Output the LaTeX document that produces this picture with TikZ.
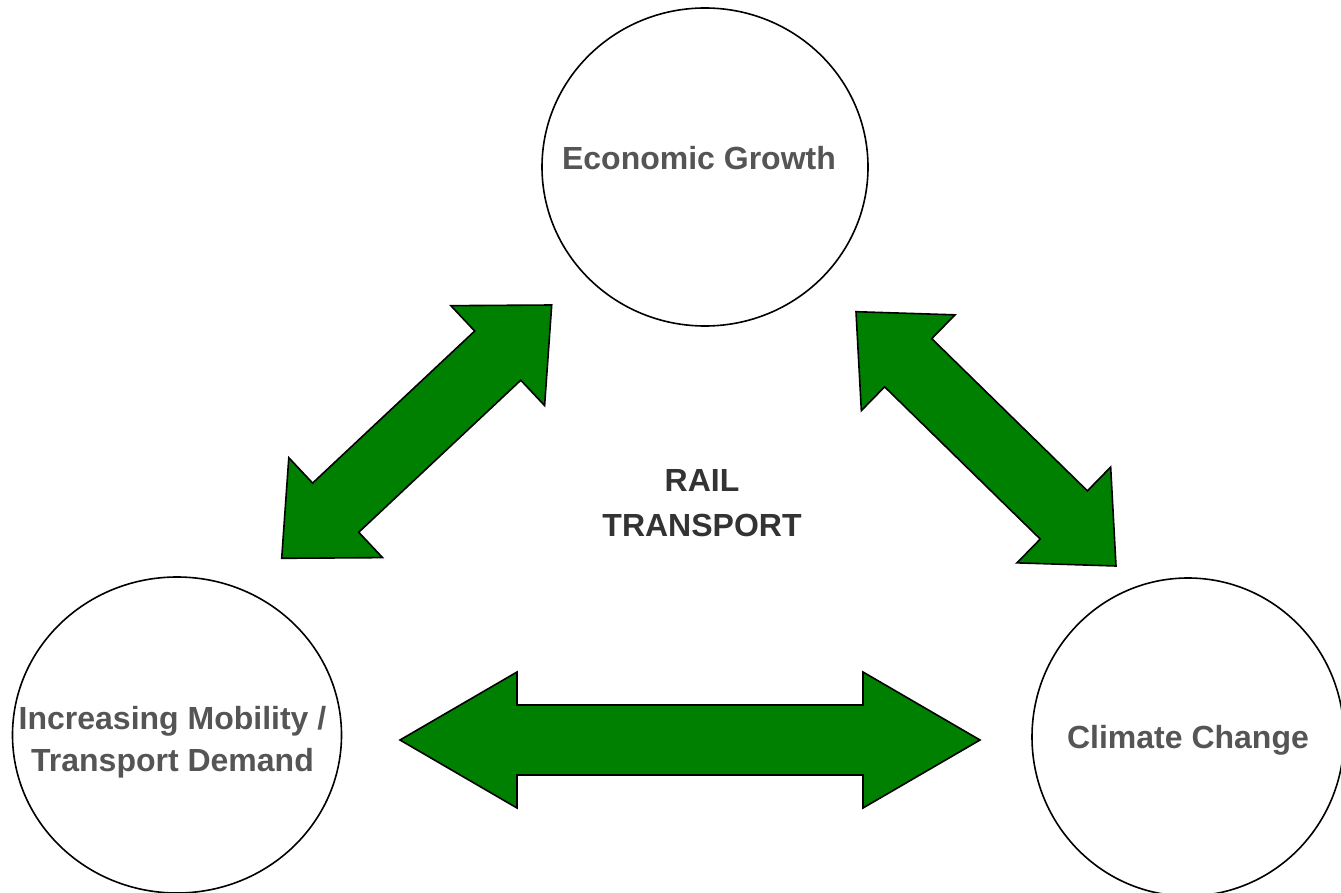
\documentclass[tikz,border=0pt]{standalone}
\usepackage{fontspec}
\setmainfont{Liberation Sans}
\usetikzlibrary{calc}
\usetikzlibrary{shapes.geometric}
\definecolor{arrowgreen}{RGB}{0,128,0}
\definecolor{labelgray}{RGB}{85,85,85}
\definecolor{centergray}{RGB}{51,51,51}

% from, to, head length, head half width, shaft half width
\newcommand{\twowayarrow}[5]{%
	\filldraw[bigarrow] (#1) -- ($(#1)!#3!(#2)!#4!90:(#2)$) -- ($(#1)!#3!(#2)!#5!90:(#2)$)
		-- ($(#2)!#3!(#1)!#5!-90:(#1)$) -- ($(#2)!#3!(#1)!#4!-90:(#1)$) -- (#2)
		-- ($(#2)!#3!(#1)!#4!90:(#1)$) -- ($(#2)!#3!(#1)!#5!90:(#1)$)
		-- ($(#1)!#3!(#2)!#5!-90:(#2)$) -- ($(#1)!#3!(#2)!#4!-90:(#2)$) -- cycle;
}

\begin{document}
\begin{tikzpicture}[x=1pt,y=-1pt,
	bubble/.style={draw,ellipse,line width=1.6pt,inner sep=0pt},
	bubbletext/.style={font=\fontsize{32}{42}\selectfont\bfseries,text=labelgray,align=center,inner sep=0pt},
	bigarrow/.style={fill=arrowgreen,draw=black,line width=1.6pt,line join=miter}]
	\useasboundingbox (0,0) rectangle (1341,893);
	% the three circles
	\node[bubble,minimum width=326pt,minimum height=318pt] (growth) at (705,167) {};
	\node[bubble,minimum width=329pt,minimum height=316pt] (mobility) at (177,735) {};
	\node[bubble,minimum width=312pt,minimum height=318pt] (climate) at (1188,737) {};
	\node[bubbletext] (growthtext) at ($(growth)+(-6,-9)$) {Economic Growth};
	\node[bubbletext] (mobilitytext) at ($(mobility)+(-4.5,7.7)$) {Increasing Mobility /\\Transport Demand};
	\node[bubbletext] (climatetext) at ($(climate)+(0,3)$) {Climate Change};
	\node[bubbletext,text=centergray,font=\fontsize{32}{45}\selectfont\bfseries] (rail) at (702,503) {RAIL\\TRANSPORT};
	% arrow tips
	\coordinate (mob-growth) at (281.7,558.3);
	\coordinate (growth-mob) at (551.7,305);
	\coordinate (growth-clim) at (856,311.7);
	\coordinate (clim-growth) at (1116,566);
	\coordinate (mob-clim) at (400,740);
	\coordinate (clim-mob) at (980,740);
	\twowayarrow{mob-growth}{growth-mob}{74pt}{68.5pt}{33.7pt}
	\twowayarrow{growth-clim}{clim-growth}{73pt}{67pt}{33.7pt}
	\twowayarrow{mob-clim}{clim-mob}{117pt}{68pt}{35pt}
\end{tikzpicture}
\end{document}
